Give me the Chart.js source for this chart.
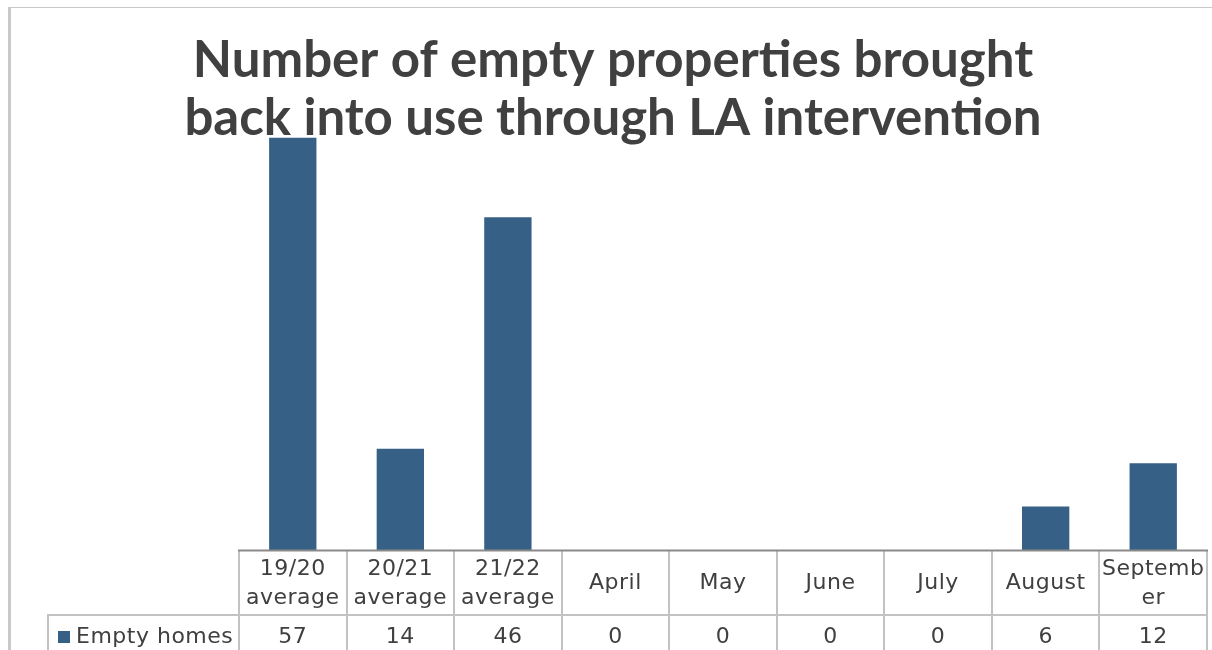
<!DOCTYPE html>
<html>
<head>
<meta charset="utf-8">
<title>Empty properties brought back into use</title>
<script src="https://cdn.jsdelivr.net/npm/chart.js@4"></script>
<style>
  html, body { margin: 0; padding: 0; background: #ffffff; overflow: hidden; width: 1212px; height: 650px; }
  #frame {
    position: absolute; left: 8px; top: 7px;
    width: 1204px; height: 643px;
    border-left: 3px solid #c9c9c9;
    border-top: 1px solid #c9c9c9;
  }
  #chart { display: block; }
</style>
</head>
<body>
<div id="frame"><canvas id="chart" width="1204" height="642"></canvas></div>
<script>
// Chart text
const titleLines = ['Number of empty properties brought', 'back into use through LA intervention'];
const seriesName = 'Empty homes';

// Category labels, as wrapped in the data table header
const categories = [
  ['19/20', 'average'],
  ['20/21', 'average'],
  ['21/22', 'average'],
  ['April'],
  ['May'],
  ['June'],
  ['July'],
  ['August'],
  ['Septemb', 'er']
];

// Number of empty homes per period
const emptyHomes = [57, 14, 46, 0, 0, 0, 0, 6, 12];

const BAR_COLOR = '#376087';
const TEXT_COLOR = '#404040';
const GRID_COLOR = '#c2c2c2';
const AXIS_COLOR = '#8a8a8a';
const TABLE_FONT = '22px "DejaVu Sans", sans-serif';

// Title drawn across the top, centred on the canvas
const titlePlugin = {
  id: 'twoLineTitle',
  afterDraw(chart) {
    const ctx = chart.ctx;
    ctx.save();
    ctx.fillStyle = TEXT_COLOR;
    ctx.font = 'bold 51px Lato, sans-serif';
    ctx.textAlign = 'center';
    ctx.textBaseline = 'alphabetic';
    const cx = chart.width / 2;
    const baselines = [69, 127];
    titleLines.forEach((line, i) => ctx.fillText(line, cx, baselines[i]));
    ctx.restore();
  }
};

// Data table under the category axis
const dataTablePlugin = {
  id: 'dataTable',
  afterDraw(chart) {
    const ctx = chart.ctx;
    const { left, right, bottom } = chart.chartArea;
    const x = chart.scales.x;
    const n = categories.length;
    const colW = (right - left) / n;
    const headerBottom = bottom + 65;
    const tableBottom = chart.height + 2;
    const rowHeaderLeft = 37;

    ctx.save();
    ctx.strokeStyle = GRID_COLOR;
    ctx.lineWidth = 2;

    // vertical column dividers
    for (let i = 0; i <= n; i++) {
      const px = Math.round(left + i * colW);
      ctx.beginPath();
      ctx.moveTo(px, bottom);
      ctx.lineTo(px, tableBottom);
      ctx.stroke();
    }
    // row header cell
    ctx.beginPath();
    ctx.moveTo(rowHeaderLeft, tableBottom);
    ctx.lineTo(rowHeaderLeft, headerBottom);
    ctx.lineTo(right, headerBottom);
    ctx.stroke();

    // category axis line
    ctx.strokeStyle = AXIS_COLOR;
    ctx.lineWidth = 2;
    ctx.beginPath();
    ctx.moveTo(left - 1, bottom + 0.5);
    ctx.lineTo(right + 1, bottom + 0.5);
    ctx.stroke();

    // header labels
    ctx.fillStyle = TEXT_COLOR;
    ctx.font = TABLE_FONT;
    ctx.letterSpacing = '0.5px';
    ctx.textAlign = 'center';
    ctx.textBaseline = 'middle';
    const headerMid = (bottom + headerBottom) / 2 + 1;
    const lineH = 29;
    categories.forEach((lines, i) => {
      const cx = x.getPixelForTick(i);
      const start = headerMid - (lines.length - 1) * lineH / 2;
      lines.forEach((t, j) => ctx.fillText(t, cx, start + j * lineH));
    });

    // values row
    const rowMid = headerBottom + 22;
    emptyHomes.forEach((v, i) => {
      ctx.fillText(String(v), x.getPixelForTick(i), rowMid);
    });

    // row header: legend key and series name
    ctx.fillStyle = BAR_COLOR;
    ctx.fillRect(rowHeaderLeft + 10, rowMid - 6, 12, 12);
    ctx.fillStyle = TEXT_COLOR;
    ctx.textAlign = 'left';
    ctx.fillText(seriesName, rowHeaderLeft + 28, rowMid);
    ctx.restore();
  }
};

new Chart(document.getElementById('chart'), {
  type: 'bar',
  data: {
    labels: categories,
    datasets: [{
      label: seriesName,
      data: emptyHomes,
      backgroundColor: BAR_COLOR,
      borderWidth: 0,
      categoryPercentage: 1,
      barPercentage: 0.44
    }]
  },
  options: {
    responsive: false,
    animation: false,
    layout: { padding: { left: 228, right: 8, top: 108, bottom: 100 } },
    plugins: {
      legend: { display: false },
      title: { display: false },
      tooltip: { enabled: false }
    },
    scales: {
      x: { display: false, offset: true },
      y: { display: false, min: 0, max: 60 }
    }
  },
  plugins: [titlePlugin, dataTablePlugin]
});
</script>
</body>
</html>
